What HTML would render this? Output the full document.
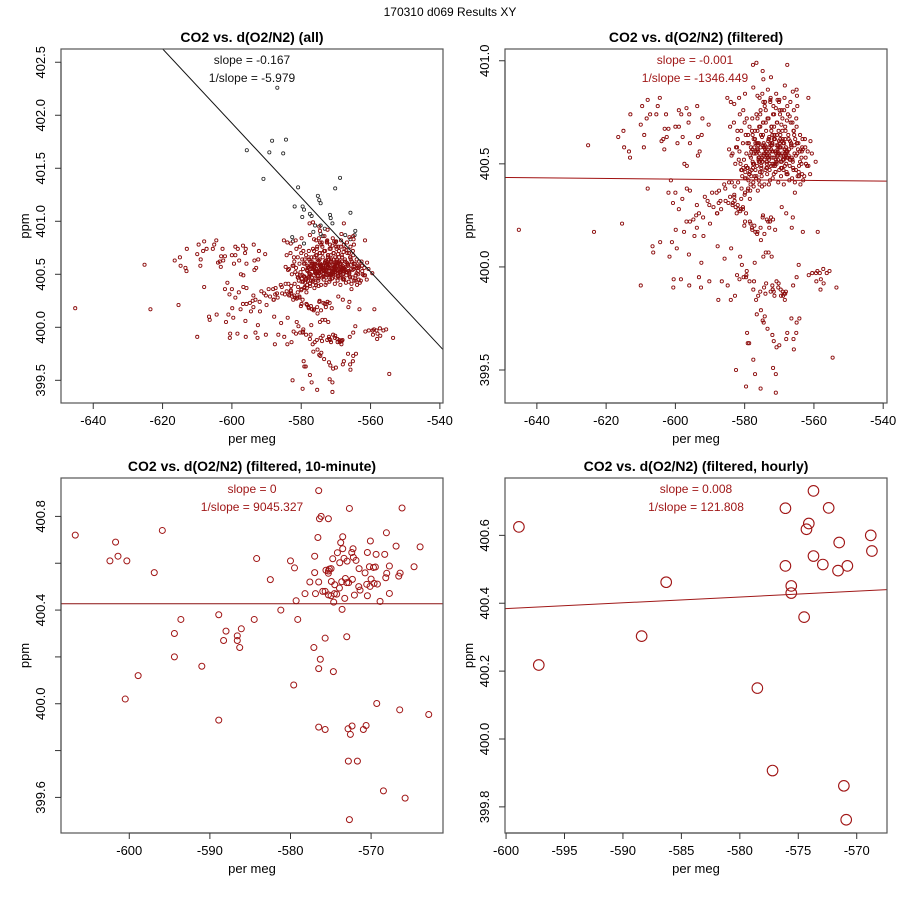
<!DOCTYPE html>
<html><head><meta charset="utf-8"><style>
html,body{margin:0;padding:0;background:#fff;}
svg{display:block;font-family:"Liberation Sans",sans-serif;}
</style></head><body>
<svg id="chart" width="900" height="900" viewBox="0 0 900 900" xmlns="http://www.w3.org/2000/svg">
<rect x="0" y="0" width="900" height="900" fill="#fff"/>
<text x="450" y="16" font-size="12" text-anchor="middle" fill="#000">170310   d069   Results XY</text>
</svg>
<script>
// ---- data: filtered 1-second points (per meg, ppm) ----
const filteredX = [-645.2,-625.2,-623.5,-615.4,-616.5,-615,-614.8,-613.4,-613.1,-613,-610,-609.6,-609,-609.1,-608.3,-608,-608,-607.3,-605.1,-604.5,-605.5,-606.6,-606.4,-604.4,-610,-602.7,-603.1,-604,-603.5,-602.5,-602,-603.2,-602,-601.3,-600.7,-600,-599.9,-599.6,-601,-601.7,-600.5,-600.6,-600,-599,-599.4,-597.9,-599,-598.3,-596.8,-596.2,-596,-593.7,-592.2,-590.4,-595.8,-593.5,-592.4,-597.4,-596.7,-593.5,-593,-599,-598,-596.7,-595.8,-596.8,-595.8,-594.8,-593.8,-594.5,-591.9,-597.5,-596.1,-598.4,-596,-593.2,-592.6,-590.2,-592.5,-590.7,-590.2,-589.4,-588.1,-587.4,-591.5,-593.8,-593.2,-590,-588,-586.8,-594,-592,-587.8,-585.8,-584.9,-587.6,-586.6,-583.9,-584,-582.8,-582.5,-582.2,-581.3,-580.8,-579.6,-579.3,-579.1,-578.7,-577.5,-577,-576.5,-575.3,-574.8,-574.2,-575.4,-574.5,-573.4,-572,-571.6,-570.8,-570,-571,-571.8,-571,-568,-565.8,-565.9,-565.1,-567.7,-564.2,-566.5,-565,-559,-558,-557.2,-554.6,-553.5,-559.3,-558.1,-561.5,-560.5,-559.4,-558.3,-557.3,-556.3,-555.5,-558.9,-563.2,-566.4,-566.1,-568,-569.3,-564.4,-565,-566,-568.6,-568.4,-568.9,-568.1,-568.3,-569.5,-570.8,-570.2,-569.6,-570.3,-569,-571.4,-571.6,-572.5,-571.9,-573.8,-574.4,-574,-575.5,-576.1,-576.7,-577.5,-577.3,-578.6,-579.6,-579.4,-580.3,-579.5,-581.5,-572,-572.2,-573.1,-573.9,-574.6,-577.1,-576.9,-577.9,-577.2,-579.9,-580.1,-578.5,-577.8,-576.3,-575.3,-574.3,-575.4,-576.4,-572.9,-571.2,-572.7,-573.6,-571.8,-574.7,-572.4,-581.3,-580.5,-579.6,-580.5,-578.5,-583.4,-582.3,-582.6,-581.8,-583.5,-583,-585.5,-584.7,-584.2,-583,-582,-582.9,-581.1,-579.9,-579,-578.4,-577.4,-576.2,-575.7,-575,-573,-584.5,-585.6,-583.7,-585.9,-587,-587.9,-589,-587.5,
-578.3,-574.8,-573.2,-576.6,-577.6,-567.7,-574.8,-574.6,-572.4,-565,-568.4,-566.1,-577.5,-579.9,-581.6,-561.6,-564.9,-576.3,-574.6,-572.6,-570,-570.5,
-585,-584,-583,-582.5,-582,-581.5,-581,-580.5,-580,-579.5,-579,-578.6,-578.2,-577.8,-577.4,-577,-576.6,-576.2,-575.8,-575.4,-575,-574.6,-574.2,-573.8,-573.4,-573,-572.6,-572.2,-571.8,-571.4,-571,-570.6,-570.2,-569.8,-569.4,-569,-568.6,-568.2,-567.8,-567.4,-567,-566.6,-566.2,-565.8,-565.4,-565,-564.5,-564,-563.4,-562.6,-561.8,-561,
-584.5,-583.5,-582.2,-581.2,-580.2,-579.3,-578.4,-577.6,-576.8,-576,-575.2,-574.4,-573.6,-572.8,-572,-571.2,-570.4,-569.6,-568.8,-568,-567.2,-566.4,-565.6,-564.8,-564,-563.2,-562.4,-561.6,-560.6,-559.5,
-583.8,-582.7,-581.7,-580.7,-579.8,-578.9,-578,-577.1,-576.4,-575.6,-574.8,-574,-573.2,-572.4,-571.6,-570.8,-570,-569.2,-568.4,-567.6,-566.8,-566,-565.2,-564.4,-563.6,-562.8,-562,-561.1,
-580.8,-579.9,-579.1,-578.3,-577.5,-576.7,-575.9,-575.1,-574.3,-573.5,-572.7,-571.9,-571.1,-570.3,-569.5,-568.7,-567.9,-567.1,-566.3,-565.5,-564.7,-563.9,-563.1,
-582.9,-581.9,-580.9,-579.7,-578.8,-577.9,-577,-576.1,-575.3,-574.5,-573.7,-572.9,-572.1,-571.3,-570.5,-569.7,-568.9,-568.1,-567.3,-566.5,-565.7,-564.9,-564.1,-563.3,-562.5,
-579.2,-578.1,-577.2,-576.3,-575.5,-574.7,-573.9,-573.1,-572.3,-571.5,-570.7,-569.9,-569.1,-568.3,-567.5,-566.7,-565.9,-565.1,
-584.2,-583.1,-582.1,-581,-579.6,-578.7,-577.7,-576.9,-576,-575.2,-574.4,-573.6,-572.8,-572,-571.2,-570.4,-569.6,-568.8,-567.9,-567,-566.1,-565.2,-564.3,-563.4,-562.3,
-578.5,-577.6,-576.6,-575.7,-574.9,-574.1,-573.3,-572.5,-571.7,-570.9,-570.1,-569.3,-568.5,-567.7,-566.8,-565.8,-564.8,
-581.4,-580.4,-579.4,-578.2,-577.3,-576.5,-575.6,-574.8,-574,-573.2,-572.4,-571.6,-570.8,-570,-569.2,-568.4,-567.5,-566.6,-565.6,-564.6,-563.6,
-576.8,-575.9,-575,-574.2,-573.4,-572.6,-571.8,-571,-570.2,-569.4,-568.6,-567.8,-567,-575.4,-574.6,-573.8,-573,-572.2,-571.4,-570.6,-569.8,-569,-576.2,-573.6,-571.6,-570.4,-568.2,-566.9,-577.8,-575.8,-574.2,-572,-570.8,-569.2,-567.6,-566.2,-576.9,-574.5,-572.9,-571.3,-569.7,-568.1,
-576.5,-575.7,-574.9,-574.1,-573.3,-572.5,-571.7,-570.9,-570.1,-569.3,-568.5,-567.7,-576.1,-575.3,-574.5,-573.7,-572.9,-572.1,-571.3,-570.5,-569.7,-568.9,-568.1,-567.3,-575.9,-575.1,-574.3,-573.5,-572.7,-571.9,-571.1,-570.3,-569.5,-568.7,-567.9,-577.3,-576.3,-575.5,-574.7,-573.9,-573.1,-572.3,-571.5,-570.7,-569.9,-569.1,-568.3,-577.7,-578.6,-579.5,-580.4,-578.1,-579.1,-580,-581,-565.5,-564.9,-566.8,-565.9,-564.3,-563.5];
const filteredY = [400.18,400.59,400.17,400.21,400.63,400.66,400.58,400.56,400.53,400.74,400.69,400.78,400.64,400.58,400.72,400.81,400.38,400.74,400.78,400.82,400.74,400.10,400.07,400.12,399.91,400.74,400.67,400.61,400.62,400.63,400.67,400.57,400.36,400.42,400.31,400.36,400.18,400.09,400.12,400.05,399.94,399.90,400.68,400.68,400.60,400.63,400.76,400.74,400.77,400.70,400.74,400.78,400.72,400.69,400.60,400.63,400.64,400.50,400.49,400.54,400.56,400.28,400.33,400.38,400.37,400.22,400.22,400.23,400.19,400.15,400.15,400.17,400.06,399.94,399.91,399.95,399.90,399.93,400.02,400.32,400.30,400.36,400.36,400.37,400.34,400.30,400.26,400.21,400.26,400.28,400.25,400.24,400.10,400.04,399.91,399.84,399.93,400.09,399.84,399.86,399.50,399.96,400.05,400.01,399.42,399.68,399.63,399.63,399.55,399.48,399.77,399.79,399.74,399.76,399.41,399.73,399.70,399.67,399.64,399.61,399.62,399.39,399.51,399.48,399.65,399.60,399.65,399.68,399.68,399.75,399.75,399.73,399.98,399.94,399.92,399.56,399.90,399.93,399.89,399.96,399.97,399.97,399.97,399.99,399.97,399.98,400.17,400.17,400.19,400.24,400.26,400.29,400.01,399.95,399.91,399.87,399.84,399.86,399.88,399.87,399.86,399.93,399.92,399.89,399.90,399.88,399.86,399.88,399.88,399.89,399.92,399.90,399.87,399.88,399.86,399.84,399.89,399.93,399.93,399.95,399.98,399.95,399.96,399.94,399.91,400.05,400.07,400.07,400.05,400.02,400.17,400.19,400.20,400.22,400.20,400.22,400.18,400.17,400.13,400.16,400.19,400.16,400.19,400.18,400.22,400.23,400.23,400.25,400.24,400.27,400.28,400.26,400.29,400.33,400.31,400.26,400.29,400.28,400.30,400.35,400.32,400.31,400.34,400.34,400.30,400.32,400.28,400.36,400.38,400.37,400.39,400.37,400.40,400.39,400.40,400.41,400.38,400.41,400.40,400.32,400.26,400.29,400.31,400.21,400.24,400.22,
400.99,400.98,400.98,400.95,400.91,400.92,400.86,400.88,400.85,400.87,400.84,400.82,400.82,400.83,400.83,400.80,400.81,400.81,400.81,400.82,400.80,400.79,
400.58,400.62,400.56,400.66,400.60,400.70,400.55,400.64,400.68,400.58,400.72,400.62,400.66,400.74,400.60,400.68,400.76,400.63,400.70,400.78,400.66,400.72,400.62,400.80,400.68,400.74,400.64,400.77,400.70,400.66,400.74,400.69,400.62,400.76,400.66,400.71,400.64,400.73,400.60,400.70,400.66,400.62,400.68,400.60,400.64,400.58,400.62,400.56,400.61,400.57,400.55,400.58,
400.50,400.52,400.48,400.54,400.50,400.56,400.52,400.48,400.58,400.54,400.50,400.60,400.56,400.52,400.58,400.54,400.50,400.57,400.53,400.59,400.55,400.51,400.57,400.53,400.49,400.55,400.51,400.54,400.50,400.52,
400.44,400.46,400.42,400.47,400.44,400.49,400.46,400.51,400.47,400.53,400.49,400.45,400.51,400.47,400.55,400.49,400.45,400.52,400.48,400.54,400.46,400.50,400.44,400.49,400.45,400.47,400.43,400.48,
400.40,400.41,400.43,400.42,400.44,400.40,400.45,400.42,400.43,400.46,400.41,400.44,400.40,400.45,400.42,400.43,400.41,400.44,400.40,400.42,400.39,400.41,400.38,
400.64,400.60,400.66,400.62,400.57,400.64,400.60,400.58,400.63,400.59,400.62,400.57,400.64,400.60,400.56,400.62,400.58,400.64,400.60,400.56,400.62,400.58,400.60,400.56,400.58,
400.72,400.74,400.70,400.76,400.72,400.68,400.74,400.70,400.76,400.72,400.68,400.74,400.70,400.66,400.72,400.68,400.70,400.66,
400.47,400.49,400.45,400.51,400.47,400.53,400.49,400.55,400.51,400.47,400.53,400.49,400.55,400.51,400.47,400.53,400.49,400.51,400.47,400.49,400.45,400.50,400.46,400.48,400.44,
400.82,400.84,400.80,400.86,400.82,400.78,400.84,400.80,400.76,400.82,400.78,400.80,400.76,400.78,400.74,400.76,400.72,
400.53,400.55,400.57,400.51,400.59,400.55,400.61,400.57,400.53,400.59,400.55,400.61,400.57,400.53,400.59,400.55,400.57,400.53,400.55,400.51,400.53,
400.58,400.54,400.60,400.56,400.52,400.58,400.54,400.60,400.56,400.52,400.58,400.54,400.56,400.52,400.56,400.50,400.54,400.58,400.52,400.56,400.50,400.62,400.59,400.55,400.61,400.57,400.53,400.59,400.64,400.50,400.48,400.56,400.52,400.60,400.54,400.58,400.62,400.58,400.54,400.60,
400.55,400.51,400.57,400.53,400.59,400.49,400.55,400.61,400.51,400.57,400.53,400.59,400.52,400.58,400.48,400.54,400.60,400.50,400.56,400.62,400.52,400.58,400.54,400.60,400.46,400.52,400.48,400.56,400.50,400.46,400.54,400.48,400.52,400.46,400.50,400.66,400.68,400.64,400.70,400.62,400.66,400.68,400.64,400.60,400.66,400.62,400.64,400.45,400.43,400.48,400.44,400.37,400.35,400.33,400.36,400.60,400.52,400.47,400.44,400.56,400.50];
// ---- data: unfiltered outliers (black) ----
const outlierX = [-586.9,-595.7,-588.4,-584.4,-589.2,-585.2,-590.9,-568.8,-570.2,-580.9,-575.2,-574.8,-574.4,-581.9,-579.6,-579.2,-565.8,-571.7,-571.5,-577.5,-577,-579.7,-571,-576,-574.4,-564.4,-564.6,-574.4,-573.8,-582.6,-567.3,-569.9,-579.2,-582.4,-565.8,-576.5,-573.2];
const outlierY = [402.26,401.67,401.76,401.77,401.65,401.64,401.40,401.41,401.31,401.32,401.24,401.20,401.17,401.14,401.14,401.11,401.08,401.06,401.03,401.07,401.05,401.04,400.98,400.96,400.96,400.91,400.87,400.88,400.86,400.85,400.87,400.81,400.79,400.81,400.83,400.90,400.93];
// ---- data: 10-minute means ----
const tenX = [-606.7,-601.7,-602.4,-601.4,-600.3,-595.9,-596.9,-593.6,-594.4,-594.4,-598.9,-600.5,-591.0,-588.9,-588.9,-588.0,-588.3,-586.6,-586.6,-586.3,-586.1,-584.5,-584.2,-582.5,-581.2,-580.0,-579.5,-579.3,-579.1,-579.6,-578.2,-577.6,-577.0,-577.0,-576.9,-577.1,-576.6,-576.5,-576.5,-576.4,-576.2,-575.3,-576.3,-576.5,-576.5,-575.7,-576.0,-575.7,-575.6,-575.7,
-575.30,-575.18,-575.30,-575.30,-574.97,-574.93,-574.97,-574.76,-574.68,-574.64,-574.51,-574.56,-574.27,-574.18,-573.93,-573.89,-573.77,-573.64,-573.52,-573.52,-573.60,-573.36,-573.27,-573.19,-573.02,-572.98,-573.02,-572.78,-572.69,-572.57,-572.82,-572.86,-572.69,-572.36,-572.40,-572.32,-572.20,-572.24,-572.07,-571.87,-571.70,-571.53,-571.49,-571.37,-570.96,-570.75,-570.62,-570.54,-570.46,-570.46,-570.21,-570.13,-570.09,-570.00,-569.71,-569.63,-569.47,-569.38,-569.22,-569.30,-568.89,-568.47,-568.31,-568.18,-568.06,-568.10,-567.73,-567.73,-566.90,-566.57,-566.40,-566.45,-566.16,-565.78,-564.67,-563.92,-562.85];
const tenY = [400.72,400.69,400.61,400.63,400.61,400.74,400.56,400.36,400.30,400.20,400.12,400.02,400.16,400.38,399.93,400.31,400.27,400.29,400.27,400.24,400.32,400.36,400.62,400.53,400.40,400.61,400.58,400.44,400.36,400.08,400.47,400.52,400.63,400.56,400.47,400.24,400.71,400.52,400.91,400.79,400.80,400.79,400.19,400.15,399.90,399.89,400.48,400.28,400.57,400.48,
400.567,400.575,400.557,400.465,400.577,400.522,400.461,400.619,400.137,400.434,400.508,400.470,400.468,400.645,400.494,400.602,400.688,400.521,400.713,400.662,400.403,400.621,400.450,400.535,400.286,400.609,400.517,400.517,400.834,399.869,399.755,399.893,399.505,399.905,400.646,400.531,400.625,400.662,400.464,400.612,399.755,400.500,400.577,400.485,399.890,400.559,399.907,400.510,400.461,400.646,400.585,400.501,400.695,400.532,400.582,400.514,400.584,400.638,400.511,400.001,400.437,399.628,400.638,400.538,400.557,400.730,400.588,400.471,400.673,400.545,400.558,399.974,400.836,399.597,400.585,400.670,399.954];
// ---- data: hourly means ----
const hourX = [-598.9,-597.2,-588.4,-586.3,-578.5,-577.2,-576.1,-576.1,-575.6,-575.6,-574.5,-574.3,-574.1,-573.7,-573.7,-572.9,-572.4,-571.6,-571.5,-570.8,-571.1,-570.9,-568.8,-568.7];
const hourY = [400.625,400.218,400.303,400.462,400.150,399.907,400.680,400.510,400.451,400.430,400.359,400.618,400.635,400.731,400.539,400.514,400.681,400.496,400.579,400.510,399.862,399.762,400.600,400.554];
// ---- axis ticks ----
const ticksX12 = [-640,-620,-600,-580,-560,-540];
const ticksY1 = [399.5,400.0,400.5,401.0,401.5,402.0,402.5];
const ticksY2 = [399.5,400.0,400.5,401.0];
const ticksX3 = [-600,-590,-580,-570];
const ticksY3 = [399.6,399.8,400.0,400.2,400.4,400.6,400.8];
const ticksY3Labels = ['399.6','','400.0','','400.4','','400.8'];
const ticksX4 = [-600,-595,-590,-585,-580,-575,-570];
const ticksY4 = [399.8,400.0,400.2,400.4,400.6];
// ---- fit lines [x0,y0,x1,y1] in data units ----
const fit1 = [-620.1,402.63,-539.1,399.79];
const fit2 = [-649.2,400.434,-538.9,400.416];
const fit3 = [-608.5,400.427,-561.1,400.427];
const fit4 = [-600.1,400.384,-567.4,400.44];

const NS='http://www.w3.org/2000/svg';
const svg=document.getElementById('chart');
function mk(tag,attrs,parent){const e=document.createElementNS(NS,tag);for(const k in attrs)e.setAttribute(k,attrs[k]);(parent||svg).appendChild(e);return e;}

function panel(o){
  const g=mk('g',{});
  
  
  const sx=v=>o.L+(v-o.x0)/(o.x1-o.x0)*(o.R-o.L);
  const sy=v=>o.B-(v-o.y0)/(o.y1-o.y0)*(o.B-o.T);
  const t=mk('text',{x:(o.L+o.R)/2,y:o.T-7,'font-size':14,'font-weight':'bold','text-anchor':'middle'},g);
  t.textContent=o.title;
  
  
  const clip='c'+o.id;
  const cp=mk('clipPath',{id:clip},g);mk('rect',{x:o.L,y:o.T,width:o.R-o.L,height:o.B-o.T},cp);
  const pg=mk('g',{'clip-path':'url(#'+clip+')'},g);
  if(o.outX){for(let i=0;i<o.outX.length;i++){const c=mk('circle',{cx:sx(o.outX[i]),cy:sy(o.outY[i]),r:o.r,fill:'none',stroke:'#222','stroke-width':0.8},pg);
    
    }}
  for(let i=0;i<o.px.length;i++){const c=mk('circle',{cx:sx(o.px[i]),cy:sy(o.py[i]),r:o.r,fill:'none',stroke:o.ptCol,'stroke-width':o.sw},pg);
    
    }
  const fl=mk('line',{x1:sx(o.fit[0]),y1:sy(o.fit[1]),x2:sx(o.fit[2]),y2:sy(o.fit[3]),stroke:o.fitCol,'stroke-width':1},pg);
  
  
  const bx=mk('rect',{x:o.L,y:o.T,width:o.R-o.L,height:o.B-o.T,fill:'none',stroke:'#555','stroke-width':1.2},g);
  
  
  const xa=mk('g',{},g);
  
  
  o.tx.forEach(v=>{const X=sx(v);mk('line',{x1:X,y1:o.B,x2:X,y2:o.B+6,stroke:'#333'},xa);
    const tl=mk('text',{x:X,y:o.B+22,'font-size':13,'text-anchor':'middle'},xa);tl.textContent=v;
    
    });
  mk('line',{x1:sx(o.tx[0]),y1:o.B,x2:sx(o.tx[o.tx.length-1]),y2:o.B,stroke:'#333'},xa);
  const xt=mk('text',{x:(o.L+o.R)/2,y:o.B+40,'font-size':13,'text-anchor':'middle'},g);xt.textContent='per meg';
  
  
  const ya=mk('g',{},g);
  
  
  o.ty.forEach((v,i)=>{const Y=sy(v);mk('line',{x1:o.L,y1:Y,x2:o.L-6,y2:Y,stroke:'#333'},ya);
    const lab=o.tyl?o.tyl[i]:v.toFixed(1);
    const lx=o.L-16;
    if(lab){const tl=mk('text',{x:lx,y:Y,'font-size':13,'text-anchor':'middle',transform:'rotate(-90 '+lx+' '+Y+')'},ya);tl.textContent=lab;
      
      }});
  mk('line',{x1:o.L,y1:sy(o.ty[0]),x2:o.L,y2:sy(o.ty[o.ty.length-1]),stroke:'#333'},ya);
  const yc=(o.T+o.B)/2, yx=o.L-32;
  const yt=mk('text',{x:yx,y:yc,'font-size':13,'text-anchor':'middle',transform:'rotate(-90 '+yx+' '+yc+')'},g);yt.textContent='ppm';
  
  
  const cx=o.annX;
  const a1=mk('text',{x:cx,y:o.T+15,'font-size':12,'text-anchor':'middle',fill:o.annCol},g);a1.textContent=o.ann1;
  
  
  const a2=mk('text',{x:cx,y:o.T+33,'font-size':12,'text-anchor':'middle',fill:o.annCol},g);a2.textContent=o.ann2;
  
  
}

panel({id:1,name:'panel-all',title:'CO2 vs. d(O2/N2) (all)',L:61,R:443,T:49,B:403,x0:-649.3,x1:-539.1,y0:399.286,y1:402.625,
  px:filteredX,py:filteredY,outX:outlierX,outY:outlierY,r:1.6,sw:0.9,ptCol:'#8b0c0c',fit:fit1,fitCol:'#111',tx:ticksX12,ty:ticksY1,
  annX:252,annCol:'#111',ann1:'slope = -0.167',ann2:'1/slope = -5.979'});
panel({id:2,name:'panel-filtered',title:'CO2 vs. d(O2/N2) (filtered)',L:505,R:887,T:49,B:403,x0:-649.2,x1:-538.9,y0:399.34,y1:401.057,
  px:filteredX,py:filteredY,r:1.6,sw:0.9,ptCol:'#8b0c0c',fit:fit2,fitCol:'#a01010',tx:ticksX12,ty:ticksY2,
  annX:695,annCol:'#a01818',ann1:'slope = -0.001',ann2:'1/slope = -1346.449'});
panel({id:3,name:'panel-10-minute',title:'CO2 vs. d(O2/N2) (filtered, 10-minute)',L:61,R:443,T:478,B:833,x0:-608.47,x1:-561.08,y0:399.448,y1:400.964,
  px:tenX,py:tenY,r:3,sw:1,ptCol:'#a01515',fit:fit3,fitCol:'#8b1010',tx:ticksX3,ty:ticksY3,tyl:ticksY3Labels,
  annX:252,annCol:'#a01818',ann1:'slope = 0',ann2:'1/slope = 9045.327'});
panel({id:4,name:'panel-hourly',title:'CO2 vs. d(O2/N2) (filtered, hourly)',L:505,R:887,T:478,B:833,x0:-600.09,x1:-567.41,y0:399.723,y1:400.769,
  px:hourX,py:hourY,r:5.3,sw:1.1,ptCol:'#a01515',fit:fit4,fitCol:'#a01818',tx:ticksX4,ty:ticksY4,
  annX:696,annCol:'#a01818',ann1:'slope = 0.008',ann2:'1/slope = 121.808'});
</script>
</body></html>
